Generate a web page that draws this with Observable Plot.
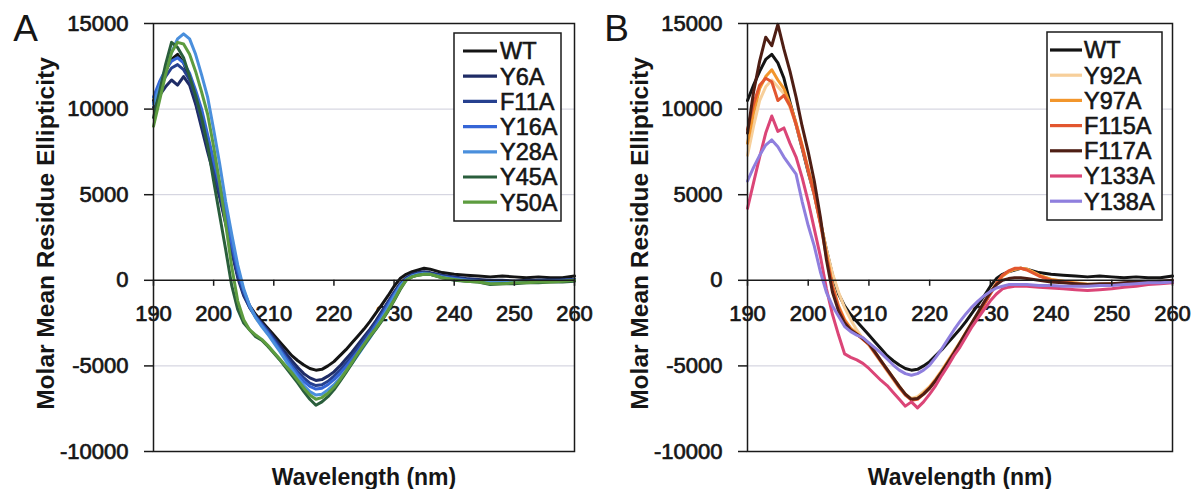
<!DOCTYPE html>
<html>
<head>
<meta charset="utf-8">
<script src="https://cdn.jsdelivr.net/npm/d3@7"></script>
<script src="https://cdn.jsdelivr.net/npm/@observablehq/plot@0.6"></script>
<style>
  body { margin: 0; background: #ffffff; }
  #wrap { display: flex; width: 1195px; height: 489px; overflow: hidden; }
  #wrap svg { display: block; }
</style>
</head>
<body>
<div id="wrap"></div>
<script>
// ---------- DATA ----------
const wavelengths = [190,191,192,193,194,195,196,197,198,199,200,201,202,203,204,205,206,207,208,209,210,211,212,213,214,215,216,217,218,219,220,221,222,223,224,225,226,227,228,229,230,231,232,233,234,235,236,238,240,242,244,246,248,250,252,254,256,258,260];

const wtValues   = [10500,11400,12200,12900,13200,12700,11800,10400,9100,7700,6300,5000,3400,1800,300,-800,-1500,-2000,-2400,-2800,-3200,-3600,-4000,-4400,-4700,-4950,-5150,-5250,-5200,-5000,-4750,-4400,-4050,-3650,-3250,-2850,-2400,-1900,-1400,-900,-350,100,350,500,600,700,650,450,350,300,250,200,250,200,150,200,150,150,250];

// Panel A mutants
const y6aValues  = [10100,10800,11300,11700,11400,11900,11400,10300,8900,7500,6200,4850,3300,1700,150,-900,-1600,-2100,-2500,-2900,-3350,-3800,-4250,-4700,-5100,-5450,-5700,-5850,-5800,-5600,-5350,-5000,-4600,-4200,-3750,-3300,-2850,-2350,-1800,-1250,-700,-200,150,350,450,500,450,300,200,100,50,0,0,-50,0,0,0,0,50];
const f11aValues = [10400,11200,11900,12400,12600,12300,11700,10700,9300,7900,6500,5150,3600,1900,300,-800,-1600,-2150,-2550,-3000,-3450,-3950,-4450,-4900,-5350,-5700,-6000,-6150,-6100,-5900,-5600,-5250,-4850,-4400,-3950,-3450,-2950,-2450,-1900,-1300,-750,-250,100,300,400,450,400,250,150,50,0,-50,-50,-50,-50,0,0,0,50];
const y16aValues = [10700,11600,12300,12800,13000,12700,12100,11100,10000,8500,7000,5600,4000,2200,600,-600,-1500,-2150,-2600,-3050,-3550,-4050,-4550,-5050,-5500,-5900,-6200,-6350,-6300,-6100,-5800,-5450,-5050,-4600,-4150,-3650,-3150,-2600,-2050,-1450,-850,-300,50,250,350,400,350,200,100,0,-50,-100,-100,-100,-50,-50,-50,0,0];
const y28aValues = [10300,11300,12300,13300,14100,14400,14100,13200,12000,10700,8800,6800,4600,2700,900,-500,-1500,-2200,-2700,-3150,-3650,-4150,-4700,-5200,-5700,-6150,-6500,-6700,-6650,-6400,-6100,-5700,-5300,-4850,-4350,-3850,-3350,-2800,-2200,-1600,-950,-350,50,250,350,400,350,200,50,0,-50,-100,-100,-100,-100,-50,-50,-50,0];
const y45aValues = [9500,11000,12600,13900,13600,13000,11900,10800,9500,7900,5800,3800,1800,-300,-1700,-2500,-2900,-3300,-3500,-3850,-4250,-4650,-5100,-5550,-6000,-6500,-6950,-7300,-7100,-6800,-6400,-5900,-5400,-4850,-4300,-3800,-3300,-2850,-2350,-1800,-1200,-550,0,200,300,350,350,150,0,-50,-100,-250,-200,-200,-150,-150,-100,-100,-50];
const y50aValues = [9000,10500,12000,13300,13900,13800,13200,12200,11000,9700,7800,5700,3300,800,-1200,-2300,-2900,-3200,-3450,-3800,-4200,-4600,-5000,-5400,-5850,-6300,-6700,-6950,-6850,-6600,-6250,-5800,-5300,-4800,-4250,-3750,-3250,-2800,-2300,-1750,-1150,-500,0,200,300,350,350,150,50,-50,-100,-200,-200,-150,-150,-100,-100,-50,0];

// Panel B mutants
const y92aValues  = [7300,9000,10500,11300,11700,11300,10900,10100,9100,7800,6400,5000,3400,1800,400,-700,-1600,-2300,-2900,-3400,-3800,-4300,-4800,-5300,-5800,-6300,-6700,-6900,-6800,-6500,-6200,-5750,-5250,-4700,-4150,-3600,-3000,-2450,-1900,-1300,-700,-150,250,500,650,700,650,300,50,-50,-150,-200,-250,-200,-200,-150,-100,-100,-50];
const y97aValues  = [8000,9800,11200,11900,12300,11700,11200,10300,9200,7900,6500,5200,3500,1600,-300,-1500,-2300,-2800,-3100,-3400,-3700,-4200,-4700,-5200,-5700,-6200,-6650,-6950,-6900,-6600,-6250,-5800,-5300,-4750,-4200,-3650,-3050,-2500,-1950,-1350,-750,-200,250,500,650,700,650,300,50,-50,-150,-250,-250,-200,-200,-150,-100,-100,-50];
const f115aValues = [8800,10300,11400,11800,11600,10500,10800,10200,9100,7800,6400,5000,3300,1400,-400,-1600,-2400,-2900,-3150,-3450,-3750,-4250,-4750,-5250,-5750,-6250,-6700,-7000,-6950,-6650,-6300,-5850,-5350,-4800,-4250,-3700,-3100,-2550,-2000,-1400,-800,-200,300,550,700,700,600,250,0,-100,-200,-300,-300,-250,-200,-200,-150,-100,-50];
const f117aValues = [8600,11000,12800,14200,13700,14950,13500,12200,10700,9000,7500,5800,3700,1200,-700,-1800,-2500,-2900,-3150,-3400,-3700,-4200,-4700,-5200,-5700,-6200,-6650,-6950,-6900,-6650,-6300,-5850,-5350,-4800,-4250,-3650,-3050,-2450,-1850,-1250,-700,-250,0,100,150,150,100,0,-100,-150,-200,-250,-200,-200,-150,-100,-100,-50,0];
const y133aValues = [4200,5700,7200,8600,9600,8700,8900,8000,7200,6000,4600,3000,1400,-500,-2000,-3200,-4300,-4500,-4650,-4850,-5150,-5500,-5850,-6150,-6550,-6950,-7350,-7100,-7450,-7100,-6650,-6150,-5550,-5000,-4400,-3900,-3300,-2700,-2200,-1700,-1200,-800,-500,-400,-350,-350,-350,-400,-450,-500,-550,-600,-550,-500,-400,-350,-250,-200,-150];
const y138aValues = [5800,6600,7300,7900,8200,7800,7200,6700,6200,4600,3200,2000,500,-700,-1500,-2100,-2700,-3000,-3200,-3350,-3650,-3950,-4250,-4600,-4950,-5250,-5450,-5550,-5450,-5250,-4950,-4500,-4000,-3450,-2900,-2400,-1950,-1550,-1200,-900,-650,-450,-350,-250,-250,-250,-250,-300,-300,-350,-350,-350,-300,-300,-250,-200,-150,-150,-100];

const panelANames  = ["WT","Y6A","F11A","Y16A","Y28A","Y45A","Y50A"];
const panelAValues = [wtValues, y6aValues, f11aValues, y16aValues, y28aValues, y45aValues, y50aValues];
const panelAColors = ["#141414","#1f2c66","#26408f","#3565d6","#4a8fdc","#2a5e3c","#5d9c3f"];

const panelBNames  = ["WT","Y92A","Y97A","F115A","F117A","Y133A","Y138A"];
const panelBValues = [wtValues, y92aValues, y97aValues, f115aValues, f117aValues, y133aValues, y138aValues];
const panelBColors = ["#141414","#f7cf9a","#f2962c","#e2562f","#4e1e14","#db4577","#8f7fde"];

const yTicks = [-10000,-5000,0,5000,10000,15000];
const xTicks = [190,200,210,220,230,240,250,260];
const gridValues = [10000,5000,-5000];

const yTitle = "Molar Mean Residue Ellipticity";
const xTitle = "Wavelength (nm)";

// ---------- DRAW ----------
const FONT = "'Liberation Sans', Arial, Helvetica, sans-serif";
const TEXT = "#161616";

function makePanel(letter, names, valuesList, colors, opts) {
  const rows = [];
  names.forEach((n, i) => wavelengths.forEach((w, j) => rows.push({series: n, wl: w, v: valuesList[i][j]})));
  const svg = Plot.plot({
    width: opts.width,
    height: 489,
    marginLeft: opts.marginLeft,
    marginRight: 23,
    marginTop: 23,
    marginBottom: 38,
    style: {fontFamily: FONT, background: "white", color: TEXT, overflow: "visible"},
    x: {domain: [190, 260], axis: null},
    y: {domain: [-10000, 15000]},
    color: {domain: names, range: colors},
    marks: [
      Plot.gridY(gridValues, {stroke: "#cdcdda", strokeOpacity: 1, strokeWidth: 1}),
      Plot.text(xTicks, {x: d => d, y: 0, dy: 34, text: d => String(d), fontSize: 22, fill: TEXT, stroke: TEXT, strokeWidth: 0.7}),
      Plot.lineY(rows, {x: "wl", y: "v", z: "series", stroke: "series", strokeWidth: 3, strokeLinejoin: "round"}),
      Plot.frame({stroke: "#1a1a1a", strokeWidth: 1.5}),
      Plot.ruleY([0], {stroke: "#1a1a1a", strokeWidth: 1.5}),
      Plot.ruleX(xTicks, {x: d => d, y1: 0, y2: 0, insetBottom: -6, stroke: "#1a1a1a", strokeWidth: 1.5}),
      Plot.axisY(yTicks, {tickSize: 9, tickPadding: 16, fontSize: 22, label: null, tickFormat: d => String(d), stroke: "#1a1a1a", strokeWidth: 1.5, fill: TEXT, textStroke: TEXT, textStrokeWidth: 0.7}),
      Plot.text([yTitle], {frameAnchor: "left", dx: -107, dy: -4, rotate: -90, textAnchor: "middle", lineAnchor: "middle", fontSize: 24.5, fontWeight: "bold", fill: TEXT}),
      Plot.text([xTitle], {frameAnchor: "bottom", dy: 26, textAnchor: "middle", lineAnchor: "middle", fontSize: 23, fontWeight: "bold", fill: TEXT}),
      Plot.text([letter], {frameAnchor: "top-left", dx: opts.letterDx, dy: 6, textAnchor: "middle", lineAnchor: "middle", fontSize: 37, fill: TEXT})
    ]
  });

  // legend box
  const lg = d3.select(svg).append("g").attr("font-family", FONT).attr("text-anchor", "start");
  lg.append("rect")
    .attr("x", opts.legX).attr("y", opts.legY)
    .attr("width", opts.legW).attr("height", 188)
    .attr("fill", "white").attr("stroke", "#1a1a1a").attr("stroke-width", 1.5);
  names.forEach((n, i) => {
    const cy = opts.legY + 18 + i * 25.2;
    lg.append("line")
      .attr("x1", opts.legX + opts.sampleX0).attr("x2", opts.legX + opts.sampleX1)
      .attr("y1", cy).attr("y2", cy)
      .attr("stroke", colors[i]).attr("stroke-width", 3.2);
    lg.append("text")
      .attr("x", opts.legX + opts.textX).attr("y", cy)
      .attr("dy", "0.36em")
      .attr("text-anchor", "start")
      .attr("font-size", 23.5)
      .attr("fill", TEXT).attr("stroke", TEXT).attr("stroke-width", 0.6)
      .text(n);
  });
  return svg;
}

const wrap = document.getElementById("wrap");
wrap.appendChild(makePanel("A", panelANames, panelAValues, panelAColors,
  {width: 597, marginLeft: 153, letterDx: -128, legX: 454, legY: 33, legW: 107, sampleX0: 9, sampleX1: 43, textX: 46}));
wrap.appendChild(makePanel("B", panelBNames, panelBValues, panelBColors,
  {width: 598, marginLeft: 150, letterDx: -131, legX: 450, legY: 32, legW: 115, sampleX0: 3, sampleX1: 35, textX: 37}));
</script>
</body>
</html>
